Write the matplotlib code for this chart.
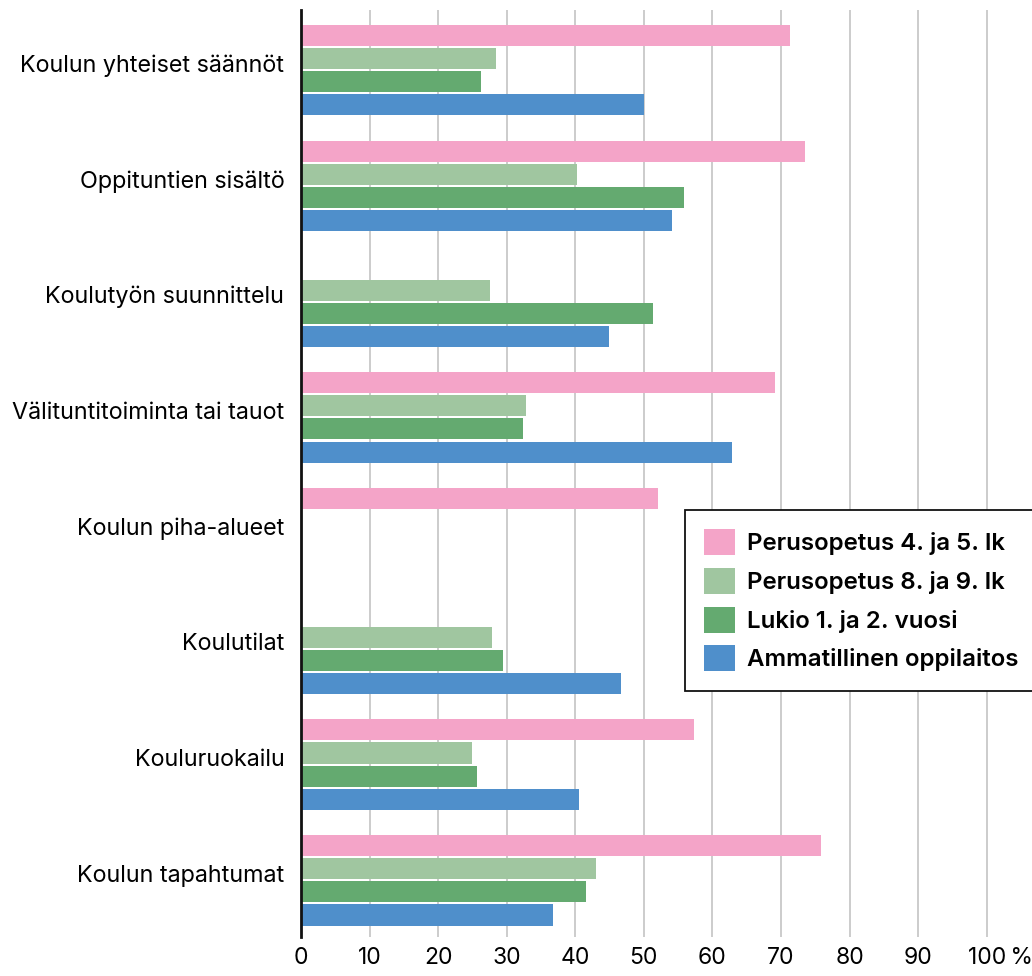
import numpy as np
import matplotlib
matplotlib.use("Agg")
import matplotlib.pyplot as plt
import matplotlib.transforms as mtransforms

plt.rcParams['font.family'] = ['Inter', 'DejaVu Sans']

categories = ["Koulun yhteiset säännöt", "Oppituntien sisältö", "Koulutyön suunnittelu",
              "Välituntitoiminta tai tauot", "Koulun piha-alueet", "Koulutilat",
              "Kouluruokailu", "Koulun tapahtumat"]
series_names = ["Perusopetus 4. ja 5. lk", "Perusopetus 8. ja 9. lk",
                "Lukio 1. ja 2. vuosi", "Ammatillinen oppilaitos"]
perus_4_5 = [71.3, 73.5, np.nan, 69.1, 52.0, np.nan, 57.3, 75.9]
perus_8_9 = [28.4, 40.2, 27.6, 32.8, np.nan, 27.8, 24.9, 43.0]
lukio = [26.2, 55.8, 51.3, 32.4, np.nan, 29.4, 25.7, 41.5]
ammatillinen = [50.0, 54.1, 44.9, 62.8, np.nan, 46.6, 40.5, 36.7]
colors = ["#f4a4c8", "#a0c6a0", "#64aa70", "#4f8fcb"]
xticks = [0, 10, 20, 30, 40, 50, 60, 70, 80, 90, 100]
xticklabels = ["0", "10", "20", "30", "40", "50", "60", "70", "80", "90", "100\u2009%"]

fig = plt.figure(figsize=(10.32, 9.76), dpi=100)
ax = fig.add_axes([301 / 1032, 39 / 976, 1 - 301 / 1032, 927 / 976])

y = np.arange(len(categories))
step = 0.2
height = 0.182
offsets = [-1.5 * step, -0.5 * step, 0.5 * step, 1.5 * step]
for vals, name, col, off in zip([perus_4_5, perus_8_9, lukio, ammatillinen],
                                series_names, colors, offsets):
    ax.barh(y + off, vals, height=height, color=col, label=name, zorder=3)

ax.set_xlim(0, 106.6)
ax.set_ylim(7.49, -0.52)
ax.set_yticks(y - 0.06)
ax.set_yticklabels(categories, fontsize=16.8)
ax.set_xticks(xticks)
ax.set_xticklabels(xticklabels, fontsize=16.5)
ax.tick_params(axis='both', length=0)
ax.tick_params(axis='x', pad=7)
ax.tick_params(axis='y', pad=12)
ax.grid(True, axis='x', color="#c4c4c4", linewidth=1.2, zorder=0)
for s in ['top', 'right', 'bottom']:
    ax.spines[s].set_visible(False)
ax.spines['left'].set_linewidth(2)
ax.spines['left'].set_color("#111111")
ax.spines['left'].set_zorder(4)

lbl = ax.get_xticklabels()[-1]
lbl.set_transform(lbl.get_transform() + mtransforms.ScaledTranslation(0.14, 0, fig.dpi_scale_trans))

leg = ax.legend(loc='upper left', bbox_to_anchor=(685 / 1032, 1 - 510 / 976),
                bbox_transform=fig.transFigure, fancybox=False, frameon=True,
                prop={'size': 17.3, 'weight': 'semibold'}, handlelength=1.3, handleheight=1.3,
                labelspacing=0.52, borderpad=0.8, handletextpad=0.5, borderaxespad=0)
leg.get_frame().set_edgecolor("#111111")
leg.get_frame().set_linewidth(1.3)
leg.get_frame().set_alpha(1)

fig.savefig("out.png", dpi=100)
